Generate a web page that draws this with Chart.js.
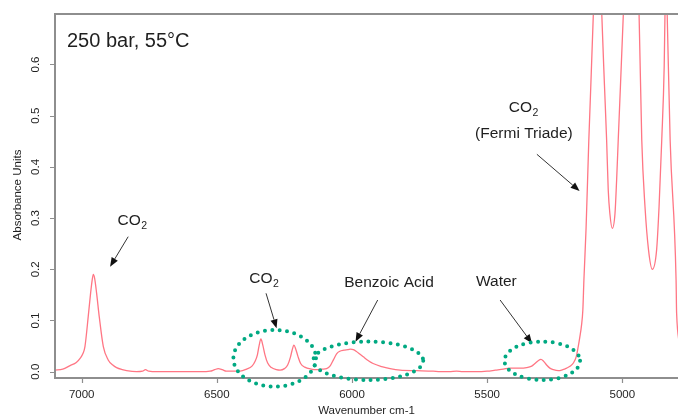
<!DOCTYPE html>
<html>
<head>
<meta charset="utf-8">
<script src="https://cdn.jsdelivr.net/npm/chart.js@4.4.1/dist/chart.umd.min.js"></script>
<style>
  html, body { margin: 0; padding: 0; background: #fff; overflow: hidden; }
  #wrap { width: 678px; height: 420px; }
</style>
</head>
<body>
<div id="wrap"><canvas id="c" width="678" height="420"></canvas></div>
<script>
// NIR spectrum of benzoic acid in supercritical CO2 (250 bar, 55 °C)
const wavenumbers = [
  7100, 7070, 7043, 7020, 7006, 6995, 6988, 6976, 6967, 6961, 6957, 6952, 6945, 6935, 6920, 6902,
  6885, 6871, 6850, 6834, 6797, 6775, 6764, 6752, 6720, 6650, 6560, 6525, 6508, 6495, 6480, 6465,
  6440, 6414, 6390, 6370, 6358, 6350, 6344, 6337, 6330, 6322, 6312, 6298, 6280, 6266, 6250, 6238,
  6228, 6222, 6215, 6208, 6200, 6190, 6175, 6150, 6131, 6110, 6094, 6080, 6068, 6057, 6045, 6030,
  6015, 6005, 5995, 5985, 5970, 5958, 5946, 5922, 5890, 5859, 5822, 5761, 5700, 5674, 5640, 5613,
  5590, 5540, 5500, 5470, 5440, 5416, 5380, 5354, 5335, 5323, 5310, 5301, 5292, 5280, 5268, 5255,
  5237, 5220, 5206, 5192, 5181, 5170, 5163, 5157, 5151, 5146, 5142, 5134, 5124, 5107, 5092, 5076,
  5066, 5058, 5052, 5046, 5037, 5027, 5021, 5015, 5009, 4996, 4967, 4938, 4928, 4916, 4903, 4889,
  4873, 4864, 4854, 4845, 4842, 4838, 4834, 4823, 4801, 4799, 4785
];
const absorbance = [
  0.003, 0.005, 0.012, 0.018, 0.026, 0.036, 0.049, 0.107, 0.154, 0.180, 0.190, 0.182, 0.154, 0.107, 0.049, 0.023,
  0.013, 0.008, 0.004, 0.002, 0.000, 0.001, 0.004, 0.001, 0.000, 0.000, 0.000, 0.001, 0.004, 0.006, 0.004, 0.001,
  0.001, 0.001, 0.005, 0.011, 0.021, 0.033, 0.050, 0.064, 0.052, 0.033, 0.017, 0.008, 0.004, 0.003, 0.006, 0.013,
  0.028, 0.041, 0.052, 0.044, 0.030, 0.016, 0.009, 0.005, 0.004, 0.005, 0.006, 0.012, 0.024, 0.035, 0.040, 0.042,
  0.043, 0.044, 0.043, 0.040, 0.034, 0.029, 0.024, 0.016, 0.010, 0.006, 0.003, 0.002, 0.001, 0.000, 0.000, 0.001,
  0.000, 0.000, 0.001, 0.003, 0.005, 0.007, 0.007, 0.008, 0.011, 0.016, 0.022, 0.024, 0.021, 0.013, 0.007, 0.004,
  0.002, 0.004, 0.007, 0.011, 0.017, 0.030, 0.049, 0.068, 0.090, 0.120, 0.179, 0.280, 0.450, 0.700, 1.000, 0.700,
  0.560, 0.453, 0.355, 0.309, 0.280, 0.309, 0.374, 0.453, 0.530, 0.700, 1.100, 0.700, 0.453, 0.322, 0.238, 0.200,
  0.238, 0.322, 0.453, 0.596, 0.700, 0.780, 0.700, 0.453, 0.179, 0.114, 0.050
];

const xTicks = [7000, 6500, 6000, 5500, 5000];
const yTicks = [0, 0.1, 0.2, 0.3, 0.4, 0.5, 0.6];
const yTickLabels = ['0.0', '0.1', '0.2', '0.3', '0.4', '0.5', '0.6'];

const plotTitle = '250 bar, 55°C';
const xTitle = 'Wavenumber cm-1';
const yTitle = 'Absorbance Units';

const FONT = '"Liberation Sans", Arial, Helvetica, sans-serif';
const AXIS_GREY = '#8e8e8e';
const TEXT = '#1f1f1f';
const DOTS = '#00a982';

// Callout labels, arrows and dotted rings, placed in data coordinates
const labels = [
  { x: 6814, y: 0.2865, main: 'CO', sub: '2' },
  { x: 6326, y: 0.1738, main: 'CO', sub: '2' },
  { x: 5863, y: 0.166, main: 'Benzoic Acid' },
  { x: 5466, y: 0.1674, main: 'Water' },
  { x: 5366, y: 0.5078, main: 'CO', sub: '2' },
  { x: 5364, y: 0.4559, main: '(Fermi Triade)' }
];
const arrows = [
  { x0: 6828, y0: 0.2637, x1: 6895, y1: 0.2051 },
  { x0: 6318, y0: 0.1531, x1: 6279, y1: 0.0848 },
  { x0: 5905, y0: 0.1400, x1: 5987, y1: 0.0586 },
  { x0: 5452, y0: 0.1400, x1: 5334, y1: 0.0555 },
  { x0: 5316, y0: 0.4246, x1: 5158, y1: 0.3529 }
];
const rings = [
  { x: 6286, y: 0.0262, rx: 152.8, ry: 0.0553 },
  { x: 5940, y: 0.0213, rx: 203.5, ry: 0.0375 },
  { x: 5296, y: 0.0213, rx: 139.8, ry: 0.0375 }
];

const decor = {
  id: 'decor',
  afterDraw(chart) {
    const { ctx, chartArea: a, scales: { x, y } } = chart;
    ctx.save();

    // frame: top, left and bottom edges
    ctx.strokeStyle = AXIS_GREY;
    ctx.lineWidth = 2;
    ctx.beginPath();
    ctx.moveTo(a.right, a.top); ctx.lineTo(a.left, a.top);
    ctx.lineTo(a.left, a.bottom); ctx.lineTo(a.right, a.bottom);
    ctx.stroke();

    // tick marks
    ctx.lineWidth = 1.2;
    ctx.beginPath();
    xTicks.forEach(v => {
      const px = Math.round(x.getPixelForValue(v)) + 0.5;
      ctx.moveTo(px, a.bottom); ctx.lineTo(px, a.bottom + 5);
    });
    yTicks.forEach(v => {
      const py = Math.round(y.getPixelForValue(v)) + 0.5;
      ctx.moveTo(a.left, py); ctx.lineTo(a.left - 5, py);
    });
    ctx.stroke();

    // tick labels
    ctx.fillStyle = TEXT;
    ctx.font = '11.5px ' + FONT;
    ctx.textAlign = 'center';
    ctx.textBaseline = 'middle';
    xTicks.forEach(v => ctx.fillText(String(v), x.getPixelForValue(v), 395));
    yTicks.forEach((v, i) => {
      ctx.save();
      ctx.translate(35.5, y.getPixelForValue(v));
      ctx.rotate(-Math.PI / 2);
      ctx.fillText(yTickLabels[i], 0, 0);
      ctx.restore();
    });

    // axis titles
    ctx.font = '11.5px ' + FONT;
    ctx.fillText(xTitle, (a.left + a.right) / 2 - 0.5 + (367 - (a.left + a.right) / 2), 411);
    ctx.save();
    ctx.translate(18, 195);
    ctx.rotate(-Math.PI / 2);
    ctx.fillText(yTitle, 0, 0);
    ctx.restore();

    // panel title
    ctx.font = '20px ' + FONT;
    ctx.textAlign = 'left';
    ctx.textBaseline = 'alphabetic';
    ctx.fillText(plotTitle, a.left + 12, a.top + 33);

    // callout labels (with subscript where needed)
    labels.forEach(l => {
      const px = x.getPixelForValue(l.x), py = y.getPixelForValue(l.y);
      ctx.font = '15.5px ' + FONT;
      const w1 = ctx.measureText(l.main).width;
      let w2 = 0;
      if (l.sub) { ctx.font = '10.5px ' + FONT; w2 = ctx.measureText(l.sub).width; }
      const start = px - (w1 + w2) / 2;
      ctx.font = '15.5px ' + FONT;
      ctx.fillText(l.main, start, py);
      if (l.sub) {
        ctx.font = '10.5px ' + FONT;
        ctx.fillText(l.sub, start + w1 + 0.5, py + 4);
      }
    });

    // arrows
    ctx.strokeStyle = '#333';
    ctx.fillStyle = '#111';
    ctx.lineWidth = 1;
    arrows.forEach(r => {
      const x0 = x.getPixelForValue(r.x0), y0 = y.getPixelForValue(r.y0);
      const x1 = x.getPixelForValue(r.x1), y1 = y.getPixelForValue(r.y1);
      const ang = Math.atan2(y1 - y0, x1 - x0);
      const L = 9, H = 3.6;
      const bx = x1 - L * Math.cos(ang), by = y1 - L * Math.sin(ang);
      ctx.beginPath(); ctx.moveTo(x0, y0); ctx.lineTo(bx, by); ctx.stroke();
      ctx.beginPath();
      ctx.moveTo(x1, y1);
      ctx.lineTo(bx + H * Math.sin(ang), by - H * Math.cos(ang));
      ctx.lineTo(bx - H * Math.sin(ang), by + H * Math.cos(ang));
      ctx.closePath(); ctx.fill();
    });

    // dotted rings
    ctx.strokeStyle = DOTS;
    ctx.lineWidth = 4;
    ctx.lineCap = 'round';
    ctx.setLineDash([0, 7.4]);
    rings.forEach(r => {
      const cx = x.getPixelForValue(r.x), cy = y.getPixelForValue(r.y);
      const rx = Math.abs(x.getPixelForValue(r.x + r.rx) - cx);
      const ry = Math.abs(y.getPixelForValue(r.y + r.ry) - cy);
      ctx.beginPath();
      ctx.ellipse(cx, cy, rx, ry, 0, 0, Math.PI * 2);
      ctx.stroke();
    });

    ctx.restore();
  }
};

new Chart(document.getElementById('c'), {
  type: 'line',
  data: {
    datasets: [{
      data: wavenumbers.map((w, i) => ({ x: w, y: absorbance[i] })),
      borderColor: 'rgb(255, 118, 132)',
      borderWidth: 1.3,
      pointRadius: 0,
      cubicInterpolationMode: 'monotone',
      fill: false
    }]
  },
  options: {
    responsive: false,
    devicePixelRatio: 1,
    animation: false,
    layout: { padding: { left: 55, top: 14, right: 0, bottom: 42 } },
    plugins: { legend: { display: false }, tooltip: { enabled: false } },
    scales: {
      x: { type: 'linear', reverse: true, min: 4793.9, max: 7098.8, display: false },
      y: { type: 'linear', min: -0.0123, max: 0.6986, display: false }
    }
  },
  plugins: [decor]
});
</script>
</body>
</html>
